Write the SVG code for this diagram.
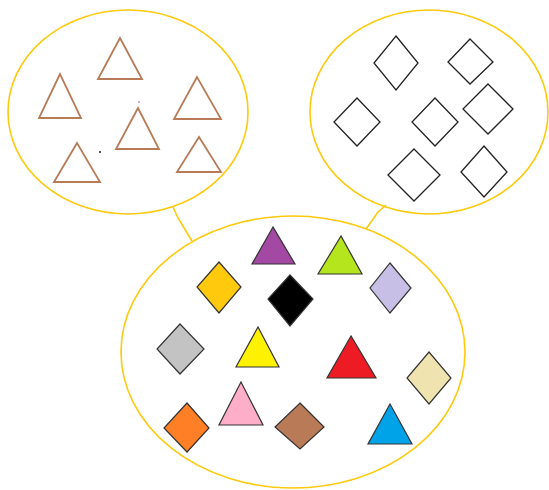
<svg xmlns="http://www.w3.org/2000/svg" width="549" height="490" viewBox="0 0 549 490">
<style>
.bub{fill:none;stroke:#ffc90e;stroke-width:1.6}
.con{fill:none;stroke:#ffc90e;stroke-width:1.6}
.ot{fill:none;stroke:#b97a57;stroke-width:1.8}
.od{fill:none;stroke:#222;stroke-width:1.3}
.fs{stroke:#333;stroke-width:1.2}
</style>
<rect width="549" height="490" fill="#fff"/>
<g id="connectors">
<polyline class="con" points="173,207 178,218 192,241"/>
<polyline class="con" points="386,205 378,212 366,229"/>
</g>
<g id="triangles-set">
<ellipse class="bub" cx="128" cy="112" rx="120" ry="102"/>
<polygon class="ot" points="120,38 98,79 142,79"/>
<polygon class="ot" points="60,74 39,118 81,118"/>
<polygon class="ot" points="197,77 174,119 221,119"/>
<polygon class="ot" points="138,108 116,149 159,149"/>
<polygon class="ot" points="77,143 54,182 100,182"/>
<polygon class="ot" points="199,137 177,172 221,172"/>
<circle cx="100" cy="152" r="0.9" fill="#000"/>
<circle cx="139" cy="102" r="0.8" fill="#a349a4"/>
</g>
<g id="diamonds-set">
<ellipse class="bub" cx="429" cy="112" rx="119" ry="102"/>
<polygon class="od" points="396,36 418,63 396,90 374,63"/>
<polygon class="od" points="470,39 493,62 470,84 448,62"/>
<polygon class="od" points="357,98 380,122 357,146 334,122"/>
<polygon class="od" points="435,98 458,122 435,146 412,122"/>
<polygon class="od" points="488,84 513,109 488,134 463,109"/>
<polygon class="od" points="414,149 440,175 414,201 388,175"/>
<polygon class="od" points="484,146 507,172 484,197 461,172"/>
</g>
<g id="mixed-set">
<ellipse class="bub" cx="293" cy="352" rx="172" ry="136"/>
<polygon class="fs" fill="#a349a4" points="273,227 252,264 295,264"/>
<polygon class="fs" fill="#b5e61d" points="341,236 318,274 362,274"/>
<polygon class="fs" fill="#ffc90e" points="219,262 241,287 219,313 197,287"/>
<polygon class="fs" fill="#000" points="290,275 313,299 290,326 268,299"/>
<polygon class="fs" fill="#c8bfe7" points="390,263 411,288 390,313 370,288"/>
<polygon class="fs" fill="#c3c3c3" points="180,324 204,349 180,374 157,349"/>
<polygon class="fs" fill="#fff200" points="258,327 236,367 279,367"/>
<polygon class="fs" fill="#ed1c24" points="351,336 327,378 376,378"/>
<polygon class="fs" fill="#efe4b0" points="429,352 451,378 429,404 407,378"/>
<polygon class="fs" fill="#ffaec9" points="241,382 219,425 263,425"/>
<polygon class="fs" fill="#ff7f27" points="187,403 209,428 187,452 164,428"/>
<polygon class="fs" fill="#b97a57" points="300,403 324,427 300,449 275,427"/>
<polygon class="fs" fill="#00a2e8" points="390,404 368,444 412,444"/>
</g>
</svg>
